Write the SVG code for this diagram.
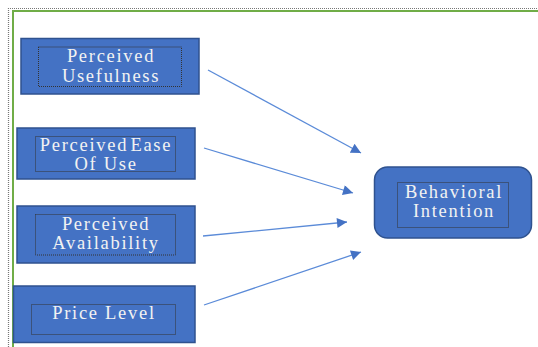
<svg xmlns="http://www.w3.org/2000/svg" width="538" height="347" viewBox="0 0 538 347">
<defs>
<style>
.box{fill:#4472C4;stroke:#2F528F;stroke-width:1.5}
.inner{fill:none;stroke:#333;stroke-width:1;stroke-dasharray:1 1}
.lbl{font-family:"Liberation Serif","Times New Roman",serif;font-size:18.5px;fill:#F2F2F2;text-anchor:middle;letter-spacing:1.7px}
.conn{stroke:#5B8BD8;stroke-width:1.3;fill:none;marker-end:url(#ah)}
</style>
<marker id="ah" viewBox="0 0 10 10" refX="10" refY="5" markerWidth="13" markerHeight="10" markerUnits="userSpaceOnUse" orient="auto">
<path d="M0,0 L10,5 L0,10 Z" fill="#4472C4"/>
</marker>
</defs>
<rect width="538" height="347" fill="#fff"/>
<g id="frame">
<path d="M8.5,347 V8.5 H538" fill="none" stroke="#777" stroke-width="1.2" stroke-dasharray="1 1"/>
<path d="M13,347 V11 H538" fill="none" stroke="#70AD47" stroke-width="2"/>
</g>
<g id="connectors">
<line class="conn" x1="208" y1="70" x2="361" y2="153"/>
<line class="conn" x1="204" y1="148" x2="353" y2="193"/>
<line class="conn" x1="203" y1="236" x2="347" y2="222"/>
<line class="conn" x1="204" y1="305" x2="361" y2="252"/>
</g>
<g id="perceived-usefulness">
<rect class="box" x="21" y="38.5" width="178" height="55.5"/>
<rect class="inner" x="38.5" y="47" width="143" height="39.5"/>
<text class="lbl" x="111" y="62">Perceived</text>
<text class="lbl" x="111" y="82">Usefulness</text>
</g>
<g id="perceived-ease-of-use">
<rect class="box" x="17" y="128" width="178" height="51"/>
<rect class="inner" x="35.5" y="136.5" width="140" height="35"/>
<text class="lbl" x="106" y="151" word-spacing="-4">Perceived Ease</text>
<text class="lbl" x="106" y="170">Of Use</text>
</g>
<g id="perceived-availability">
<rect class="box" x="17" y="206" width="178" height="57"/>
<rect class="inner" x="35.5" y="214.5" width="140" height="40.5"/>
<text class="lbl" x="106" y="229.5">Perceived</text>
<text class="lbl" x="106" y="248.5">Availability</text>
</g>
<g id="price-level">
<rect class="box" x="13.5" y="286" width="181.5" height="56.5"/>
<rect class="inner" x="31.5" y="304.5" width="144" height="30"/>
<text class="lbl" x="104" y="318.5">Price Level</text>
</g>
<g id="behavioral-intention">
<rect class="box" x="374.5" y="167" width="157" height="71" rx="13"/>
<rect class="inner" x="397.5" y="182.5" width="111" height="45"/>
<text class="lbl" x="454" y="197.5">Behavioral</text>
<text class="lbl" x="454" y="216.5">Intention</text>
</g>
</svg>
